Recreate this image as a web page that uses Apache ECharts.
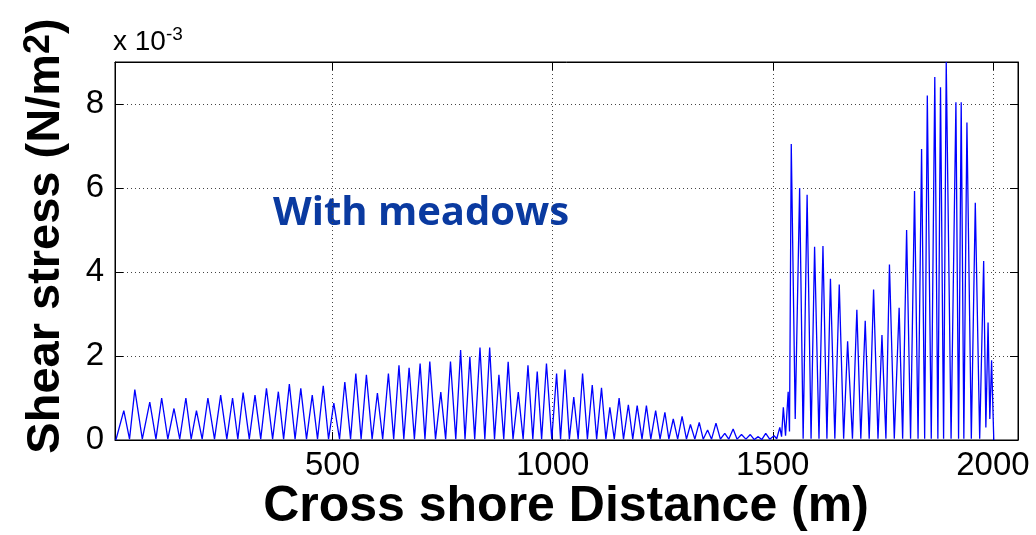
<!DOCTYPE html>
<html><head><meta charset="utf-8">
<script src="https://cdn.jsdelivr.net/npm/echarts@6/dist/echarts.min.js"></script>
<style>html,body{margin:0;padding:0;background:#fff}#c{width:1036px;height:535px}</style>
</head><body><div id="c"></div>
<script>
// Cross-shore distance (m) and shear stress (x 1e-3 N/m^2)
const distance = [
8,26,39,51,68,85,99,112,126,140,153,167,179,191,204,217,232,246,260,273,285,297,311,324,337,350,364,377,389,402,
415,428,441,454,466,479,491,503,516,528,541,553,565,577,590,602,614,627,639,651,662,674,686,699,710,721,734,746,757,768,
780,791,801,812,823,835,846,857,868,878,889,899,910,922,933,944,955,965,975,986,998,1009,1018,1028,1038,1048,1058,1068,1079,1090,
1100,1111,1121,1130,1140,1151,1161,1172,1182,1192,1203,1213,1223,1234,1244,1255,1264,1274,1284,1294,1304,1313,1323,1333,1342,1352,1361,1371,1381,1391,
1400,1410,1419,1429,1439,1449,1458,1467,1475,1484,1493,1503,1509,1516,1520,1524,1529,1535,1538,1542,1551,1561,1569,1578,1587,1595,1605,1614,1623,1631,
1641,1651,1661,1670,1681,1691,1700,1710,1719,1729,1739,1748,1757,1765,1776,1787,1795,1804,1813,1822,1830,1838,1845,1851,1860,1868,1875,1881,1888,1894,
1905,1916,1922,1928,1934,1941,1951,1960,1970,1979,1984,1989,1993,1997,2002
];
const stress = [
0,0.70,0.02,1.20,0.02,0.90,0.02,1.00,0.02,0.75,0.02,1.00,0.02,0.70,0.02,1.00,0.02,1.07,0.02,1.00,0.02,1.13,0.02,1.07,0.02,1.23,0.02,1.15,0.02,1.33,
0.02,1.23,0.02,1.07,0.02,1.29,0.02,0.88,0.02,1.38,0.02,1.58,0.02,1.55,0.02,1.12,0.02,1.58,0.02,1.78,0.02,1.72,0.02,1.82,0.02,1.87,0.02,1.14,0.02,1.87,
0.02,2.14,0.02,1.98,0.02,2.20,0.02,2.20,0.02,1.55,0.02,1.86,0.02,1.14,0.02,1.78,0.02,1.63,0.02,1.82,0.02,1.58,0.02,1.68,0.02,1.02,0.02,1.58,0.02,1.31,
0.02,1.24,0.02,0.78,0.02,1.00,0.02,0.84,0.02,0.82,0.02,0.82,0.02,0.70,0.02,0.66,0.02,0.50,0.02,0.56,0.02,0.37,0.02,0.42,0.02,0.24,0.02,0.40,0.02,0.16,
0.02,0.26,0.02,0.13,0.02,0.13,0.01,0.08,0.01,0.16,0.02,0.10,0.03,0.30,0.08,0.78,0.10,1.15,0.20,7.05,0.50,6.00,0.03,5.84,0.03,4.60,0.03,4.62,0.03,3.84,
0.03,3.70,0.03,2.35,0.03,3.10,0.03,2.84,0.03,3.58,0.03,2.50,0.03,4.18,0.03,3.15,0.03,5.00,0.03,5.93,0.03,6.93,0.03,8.20,0.03,8.64,0.03,8.40,0.03,9.00,
0.03,8.04,0.03,8.04,0.03,7.56,0.03,5.65,0.03,4.26,0.30,2.80,0.50,1.90,0
];
const xTickValues = [500, 1000, 1500, 2000];
const yTickValues = [0, 2, 4, 6, 8];
const xTitle = 'Cross shore Distance (m)';
const yTitleMain = 'Shear stress (N/m';
const yTitleSup = '2';
const yTitleEnd = ')';
const scaleBase = 'x 10';
const scaleExp = '-3';
const annotation = 'With meadows';

const FONT = '"Liberation Sans", Arial, Helvetica, sans-serif';
const chart = echarts.init(document.getElementById('c'), null, {renderer: 'canvas'});
const gridLine = {show: true, lineStyle: {color: '#444', type: [1, 3], width: 1}};
const axisLine = {show: true, onZero: false, lineStyle: {color: '#000', width: 1}};
const tick = {show: true, inside: true, length: 8, lineStyle: {color: '#000'}};

chart.setOption({
  animation: false,
  grid: {left: 115, right: 18, top: 62, bottom: 95, show: true, borderColor: '#000', borderWidth: 1},
  xAxis: [
    {type: 'value', min: 6, max: 2057, position: 'bottom', axisLine: axisLine, axisTick: tick,
     axisLabel: {color: '#000', fontSize: 33, fontFamily: FONT, margin: 9,
       formatter: v => xTickValues.includes(v) ? String(v) : ''},
     splitLine: gridLine},
    {type: 'value', min: 6, max: 2057, position: 'top', axisLine: axisLine, axisTick: tick,
     axisLabel: {show: false}, splitLine: {show: false}}
  ],
  yAxis: [
    {type: 'value', min: 0, max: 9, interval: 2, position: 'left', axisLine: axisLine, axisTick: tick,
     axisLabel: {color: '#000', fontSize: 33, fontFamily: FONT, margin: 11,
       formatter: v => yTickValues.includes(v) ? String(v) : ''},
     splitLine: gridLine},
    {type: 'value', min: 0, max: 9, interval: 2, position: 'right', axisLine: axisLine, axisTick: tick,
     axisLabel: {show: false}, splitLine: {show: false}}
  ],
  series: [{
    type: 'line', xAxisIndex: 0, yAxisIndex: 0,
    data: distance.map((d, i) => [d, stress[i]]),
    showSymbol: false, symbol: 'none', clip: true,
    lineStyle: {color: '#0000ff', width: 1.3}
  }],
  graphic: [
    {type: 'text', x: 46, y: 236, rotation: Math.PI / 2,
     style: {text: '{a|' + yTitleMain + '}{s|' + yTitleSup + '}{a|' + yTitleEnd + '}',
       align: 'center', verticalAlign: 'middle',
       rich: {a: {fontSize: 47, fontWeight: 'bold', fontFamily: FONT, fill: '#000'},
              s: {fontSize: 36, fontWeight: 'bold', fontFamily: FONT, fill: '#000', verticalAlign: 'top', padding: [0, 0, 14, 0]}}}},
    {type: 'text', x: 566, y: 507,
     style: {text: xTitle, align: 'center', verticalAlign: 'middle', fontSize: 50, fontWeight: 'bold', fontFamily: FONT, fill: '#000'}},
    {type: 'text', x: 113, y: 42,
     style: {text: '{a|' + scaleBase + '}{s|' + scaleExp + '}', align: 'left', verticalAlign: 'middle',
       rich: {a: {fontSize: 28, fontFamily: FONT, fill: '#000'},
              s: {fontSize: 19, fontFamily: FONT, fill: '#000', verticalAlign: 'top', padding: [0, 0, 14, 0]}}}},
    {type: 'text', x: 273, y: 214,
     style: {text: annotation, align: 'left', verticalAlign: 'middle', fontSize: 40, fontWeight: 'bold', fontFamily: '"Open Sans", Lato, sans-serif', fill: '#0a3aa0'}}
  ]
});
</script></body></html>
